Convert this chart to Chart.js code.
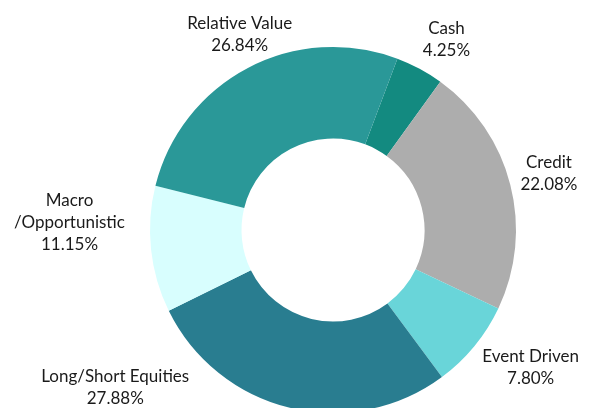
<!DOCTYPE html>
<html>
<head>
<meta charset="utf-8">
<script src="https://cdn.jsdelivr.net/npm/chart.js@4/dist/chart.umd.min.js"></script>
<style>
  html, body { margin: 0; padding: 0; background: #fff; }
  #wrap { width: 596px; height: 408px; overflow: hidden; }
</style>
</head>
<body>
<div id="wrap"><canvas id="chart" width="596" height="420"></canvas></div>
<script>
const labels = ["Cash", "Credit", "Event Driven", "Long/Short Equities", "Macro\n/Opportunistic", "Relative Value"];
const shares = [4.25, 22.08, 7.80, 27.88, 11.15, 26.84];
const colors = ["#138a80", "#adadad", "#69d5d9", "#297d90", "#d8fefe", "#2a9898"];

// label centre, in units of the outer radius, relative to the ring centre
const labelSpots = [[0.62, -1.04], [1.18, -0.31], [1.08, 0.75], [-1.19, 0.86], [-1.44, -0.04], [-0.51, -1.07]];

const outsideLabels = {
  id: "outsideLabels",
  afterDatasetsDraw(chart) {
    const ctx = chart.ctx;
    const meta = chart.getDatasetMeta(0);
    ctx.save();
    ctx.font = "17px Lato";
    ctx.fillStyle = "#1a1a1a";
    ctx.textAlign = "center";
    ctx.textBaseline = "middle";
    meta.data.forEach((arc, i) => {
      const r = arc.outerRadius;
      const cx = arc.x + labelSpots[i][0] * r;
      const cy = arc.y + labelSpots[i][1] * r;
      const lines = labels[i].split("\n").concat([shares[i].toFixed(2) + "%"]);
      const lh = 22;
      const top = cy - (lines.length - 1) * lh / 2;
      lines.forEach((t, k) => ctx.fillText(t, cx, top + k * lh));
    });
    ctx.restore();
  }
};

new Chart(document.getElementById("chart"), {
  type: "doughnut",
  data: {
    labels: labels,
    datasets: [{
      data: shares,
      backgroundColor: colors,
      borderWidth: 0
    }]
  },
  options: {
    responsive: false,
    animation: false,
    rotation: 20.6,
    cutout: "50%",
    layout: { padding: { left: 150, right: 80, top: 47, bottom: 7 } },
    plugins: {
      legend: { display: false },
      tooltip: { enabled: false }
    }
  },
  plugins: [outsideLabels]
});
</script>
</body>
</html>
